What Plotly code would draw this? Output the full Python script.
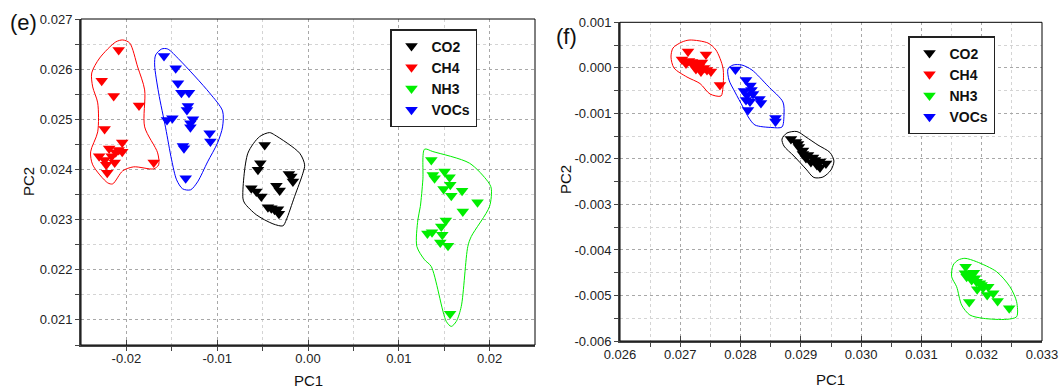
import plotly.graph_objects as go

FONT = "Liberation Sans, Arial, sans-serif"
GROUPS = ["CO2", "CH4", "NH3", "VOCs"]
COLORS = {"CO2": "#000000", "CH4": "#ff0000", "NH3": "#00ee00", "VOCs": "#0000ff"}

# ---------------- panel (e) data ----------------
e_co2_x = [-0.00477, -0.00525, -0.00551, -0.00210, -0.00184, -0.00166, -0.00348, -0.00312,
           -0.00624, -0.00569, -0.00514, -0.00441, -0.00404, -0.00331, -0.00320, -0.00368]
e_co2_y = [0.024490, 0.024125, 0.023992, 0.023912, 0.023859, 0.023759, 0.023673, 0.023580,
           0.023627, 0.023560, 0.023460, 0.023249, 0.023229, 0.023209, 0.023116, 0.023195]
e_ch4_x = [-0.02085, -0.02272, -0.02140, -0.01861, -0.02240, -0.02046, -0.02190, -0.02118,
           -0.02046, -0.02085, -0.02300, -0.02239, -0.02129, -0.02222, -0.02211, -0.01699, -0.02162]
e_ch4_y = [0.026382, 0.025771, 0.025466, 0.025277, 0.024809, 0.024540, 0.024420, 0.024341,
           0.024351, 0.024390, 0.024261, 0.024191, 0.024141, 0.024092, 0.023932, 0.024141, 0.024261]
e_nh3_x = [0.01358, 0.01375, 0.01394, 0.01504, 0.01559, 0.01567, 0.01493, 0.01578, 0.01697,
           0.01867, 0.01705, 0.01518, 0.01468, 0.01315, 0.01366, 0.01479, 0.01457, 0.01542, 0.01565]
e_nh3_y = [0.024191, 0.023892, 0.023827, 0.023958, 0.023847, 0.023693, 0.023608, 0.023474, 0.023574,
           0.023345, 0.023161, 0.022982, 0.022862, 0.022723, 0.022747, 0.022697, 0.022544, 0.022478, 0.021124]
e_voc_x = [-0.01586, -0.01457, -0.01432, -0.01394, -0.01311, -0.01322, -0.01333, -0.01553, -0.01494,
           -0.01267, -0.01295, -0.01295, -0.01083, -0.01075, -0.01377, -0.01366, -0.01347]
e_voc_y = [0.026263, 0.026018, 0.025719, 0.025532, 0.025532, 0.025267, 0.025187, 0.024988, 0.025022,
           0.025002, 0.024922, 0.024843, 0.024723, 0.024556, 0.024470, 0.024424, 0.023827]

# hand-drawn cluster outlines, panel (e)
e_co2_hull_x = [-0.00717, -0.00662, -0.00533, -0.00423, -0.00368, -0.00092, -0.00037, -0.00056,
                -0.00148, -0.00239, -0.00276, -0.00386, -0.00569, -0.00698]
e_co2_hull_y = [0.023428, 0.024325, 0.024655, 0.024735, 0.024689, 0.024325, 0.024092, 0.023926,
                0.023460, 0.022996, 0.022876, 0.022916, 0.023096, 0.023329]
e_ch4_hull_x = [-0.02041, -0.01964, -0.01876, -0.01799, -0.01799, -0.01656, -0.01645, -0.01700,
                -0.01920, -0.02041, -0.02151, -0.02206, -0.02371, -0.02394, -0.02316, -0.02316,
                -0.02371, -0.02382, -0.02294, -0.02118]
e_ch4_hull_y = [0.026582, 0.026522, 0.026044, 0.025586, 0.024849, 0.024331, 0.024092, 0.024012,
                0.024052, 0.023972, 0.023713, 0.023733, 0.024092, 0.024351, 0.024749, 0.025327,
                0.025645, 0.025924, 0.026223, 0.026542]
e_nh3_hull_x = [0.01284, 0.01375, 0.01779, 0.01981, 0.02018, 0.01999, 0.01798, 0.01760, 0.01688,
                0.01633, 0.01578, 0.01523, 0.01357, 0.01284, 0.01199, 0.01210, 0.01237, 0.01265]
e_nh3_hull_y = [0.024404, 0.024357, 0.024125, 0.023759, 0.023627, 0.023261, 0.022663, 0.022464, 0.021269,
                0.020970, 0.020871, 0.020970, 0.022066, 0.022199, 0.022464, 0.022996, 0.023261, 0.023793]
e_voc_hull_x = [-0.01678, -0.01612, -0.01546, -0.01414, -0.01084, -0.00941, -0.00941, -0.00996, -0.01106,
                -0.01216, -0.01293, -0.01381, -0.01447, -0.01502, -0.01568, -0.01645, -0.01689]
e_voc_hull_y = [0.026283, 0.026402, 0.026402, 0.026183, 0.025526, 0.025167, 0.024849, 0.024530, 0.024151,
                0.023753, 0.023594, 0.023614, 0.023793, 0.024191, 0.024829, 0.025526, 0.026084]

# ---------------- panel (f) data ----------------
f_co2_x = [0.028836, 0.028919, 0.028968, 0.029035, 0.029118, 0.029201, 0.029317, 0.029416,
           0.029317, 0.029167, 0.029085, 0.029035, 0.029234, 0.028952, 0.029267]
f_co2_y = [-0.001564, -0.001630, -0.001740, -0.001816, -0.001915, -0.001970, -0.002058, -0.002102,
           -0.002190, -0.002069, -0.001981, -0.001893, -0.002025, -0.001674, -0.002135]
f_ch4_x = [0.027128, 0.027426, 0.027028, 0.027144, 0.027194, 0.027277, 0.027360, 0.027095,
           0.027227, 0.027310, 0.027393, 0.027443, 0.027509, 0.027343, 0.027260, 0.027658]
f_ch4_y = [0.000358, 0.000292, 0.000182, 0.000149, 0.000127, 0.000094, 0.000116, 0.000094,
           0.000040, 0.000018, -0.000004, -0.000048, -0.000081, -0.000081, -0.000026, -0.000378]
f_nh3_x = [0.031733, 0.031721, 0.031804, 0.031871, 0.031750, 0.031833, 0.031915, 0.031970, 0.031925,
           0.032108, 0.032091, 0.032191, 0.032264, 0.031793, 0.032456, 0.031887, 0.031998, 0.032020]
f_nh3_y = [-0.004369, -0.004514, -0.004514, -0.004500, -0.004588, -0.004661, -0.004698, -0.004733, -0.004865,
           -0.004808, -0.004990, -0.004953, -0.005122, -0.005144, -0.005282, -0.004623, -0.004771, -0.004836]
f_voc_x = [0.027915, 0.028090, 0.028164, 0.028181, 0.028056, 0.028090, 0.028156, 0.028313,
           0.028338, 0.028123, 0.028579, 0.028579, 0.028106, 0.028206]
f_voc_y = [-0.000037, -0.000268, -0.000389, -0.000488, -0.000510, -0.000707, -0.000740, -0.000685,
           -0.000773, -0.000927, -0.001103, -0.001179, -0.000597, -0.000575]

# hand-drawn cluster outlines, panel (f)
f_co2_hull_x = [0.028687, 0.028769, 0.028935, 0.029085, 0.029284, 0.029483, 0.029549, 0.029499,
                0.029367, 0.029217, 0.029085, 0.028886, 0.028720]
f_co2_hull_y = [-0.001564, -0.001432, -0.001399, -0.001520, -0.001696, -0.001860, -0.002047, -0.002245,
                -0.002398, -0.002409, -0.002223, -0.001938, -0.001718]
f_ch4_hull_x = [0.026879, 0.027028, 0.027161, 0.027459, 0.027592, 0.027708, 0.027708, 0.027675,
                0.027493, 0.027327, 0.027111, 0.026896, 0.026846]
f_ch4_hull_y = [0.000435, 0.000567, 0.000611, 0.000545, 0.000391, -0.000004, -0.000422, -0.000619,
                -0.000575, -0.000345, -0.000202, -0.000004, 0.000237]
f_nh3_hull_x = [0.031527, 0.031610, 0.031721, 0.031915, 0.032247, 0.032468, 0.032579, 0.032579,
                0.032413, 0.032025, 0.031804, 0.031667, 0.031584, 0.031501]
f_nh3_hull_y = [-0.004331, -0.004222, -0.004184, -0.004259, -0.004478, -0.004808, -0.005137, -0.005467,
                -0.005524, -0.005502, -0.005429, -0.005210, -0.004808, -0.004588]
f_voc_hull_x = [0.027791, 0.027874, 0.028023, 0.028189, 0.028454, 0.028703, 0.028720, 0.028687,
                0.028521, 0.028239, 0.028139, 0.028040, 0.027907, 0.027808]
f_voc_hull_y = [-0.000026, 0.000061, 0.000061, -0.000048, -0.000400, -0.000751, -0.001037, -0.001300,
                -0.001311, -0.001256, -0.001103, -0.000861, -0.000532, -0.000268]

# ---------------- tick labels ----------------
e_xtick_vals = [-0.02, -0.01, 0.0, 0.01, 0.02]
e_xtick_text = ["-0.02", "-0.01", "0.00", "0.01", "0.02"]
e_ytick_vals = [0.021, 0.022, 0.023, 0.024, 0.025, 0.026, 0.027]
e_ytick_text = ["0.021", "0.022", "0.023", "0.024", "0.025", "0.026", "0.027"]
f_xtick_vals = [0.026, 0.027, 0.028, 0.029, 0.030, 0.031, 0.032, 0.033]
f_xtick_text = ["0.026", "0.027", "0.028", "0.029", "0.030", "0.031", "0.032", "0.033"]
f_ytick_vals = [-0.006, -0.005, -0.004, -0.003, -0.002, -0.001, 0.0, 0.001]
f_ytick_text = ["-0.006", "-0.005", "-0.004", "-0.003", "-0.002", "-0.001", "0.000", "0.001"]

panels = {
    "e": dict(pts={"CO2": (e_co2_x, e_co2_y), "CH4": (e_ch4_x, e_ch4_y),
                   "NH3": (e_nh3_x, e_nh3_y), "VOCs": (e_voc_x, e_voc_y)},
              hulls={"CO2": (e_co2_hull_x, e_co2_hull_y), "CH4": (e_ch4_hull_x, e_ch4_hull_y),
                     "NH3": (e_nh3_hull_x, e_nh3_hull_y), "VOCs": (e_voc_hull_x, e_voc_hull_y)},
              xa="x", ya="y", legend="legend"),
    "f": dict(pts={"CO2": (f_co2_x, f_co2_y), "CH4": (f_ch4_x, f_ch4_y),
                   "NH3": (f_nh3_x, f_nh3_y), "VOCs": (f_voc_x, f_voc_y)},
              hulls={"CO2": (f_co2_hull_x, f_co2_hull_y), "CH4": (f_ch4_hull_x, f_ch4_hull_y),
                     "NH3": (f_nh3_hull_x, f_nh3_hull_y), "VOCs": (f_voc_hull_x, f_voc_hull_y)},
              xa="x2", ya="y2", legend="legend2"),
}

fig = go.Figure()
for key, p in panels.items():
    for g in GROUPS:
        hx, hy = p["hulls"][g]
        fig.add_trace(go.Scatter(x=list(hx) + [hx[0]], y=list(hy) + [hy[0]], mode="lines",
                                 line=dict(color=COLORS[g], width=1, shape="spline", smoothing=0.8),
                                 xaxis=p["xa"], yaxis=p["ya"], showlegend=False, hoverinfo="skip"))
    for g in GROUPS:
        x, y = p["pts"][g]
        fig.add_trace(go.Scatter(x=x, y=y, mode="markers", name=g,
                                 marker=dict(symbol="triangle-down", size=11, color=COLORS[g],
                                             line=dict(width=0)),
                                 xaxis=p["xa"], yaxis=p["ya"], legend=p["legend"]))

tickfont = dict(family=FONT, size=13, color="#222")
grid = dict(showgrid=True, gridcolor="#a8a8a8", griddash="dot", gridwidth=1)
minor = dict(showgrid=True, gridcolor="#d4d4d4", griddash="dot", ticklen=4, tickcolor="#444")

def xaxis(domain, rng, vals, text, mdt, anchor):
    return dict(domain=domain, range=rng, tickmode="array", tickvals=vals, ticktext=text,
                ticks="inside", ticklen=5, tickcolor="#444", tickwidth=1,
                minor=dict(dtick=mdt, tick0=0, **minor), **grid,
                showline=True, linecolor="#444", linewidth=2, mirror=False,
                zeroline=False, tickfont=tickfont, anchor=anchor, automargin=False)

def yaxis(domain, rng, vals, text, mdt, anchor):
    return dict(domain=domain, range=rng, tickmode="array", tickvals=vals, ticktext=text,
                ticks="outside", ticklen=4, tickcolor="#444", tickwidth=1,
                minor=dict(dtick=mdt, tick0=0, **minor), **grid,
                showline=True, linecolor="#444", linewidth=2, mirror=False,
                zeroline=False, tickfont=tickfont, anchor=anchor, automargin=False)

W, H = 1059, 390
ex = [81 / W, 535 / W]
ey = [1 - 345 / H, 1 - 19 / H]
fx = [620 / W, 1042 / W]
fy = [1 - 341 / H, 1 - 22.3 / H]

legend_style = dict(bgcolor="white", bordercolor="#222", borderwidth=1.5,
                    font=dict(family=FONT, size=14, color="#111", weight="bold"),
                    xanchor="left", yanchor="top", itemwidth=30, tracegroupgap=0)

def label(text, x, y, size, angle=0):
    return dict(text=text, xref="paper", yref="paper", x=x / W, y=1 - y / H, xanchor="center",
                yanchor="middle", showarrow=False, textangle=angle,
                font=dict(family=FONT, size=size, color="#111"))

fig.update_layout(
    width=W, height=H, margin=dict(l=0, r=0, t=0, b=0, autoexpand=False),
    paper_bgcolor="white", plot_bgcolor="white",
    xaxis=xaxis(ex, [-0.025, 0.025], e_xtick_vals, e_xtick_text, 0.005, "y"),
    yaxis=yaxis(ey, [0.0205, 0.027], e_ytick_vals, e_ytick_text, 0.0005, "x"),
    xaxis2=xaxis(fx, [0.026, 0.033], f_xtick_vals, f_xtick_text, 0.0005, "y2"),
    yaxis2=yaxis(fy, [-0.006, 0.001], f_ytick_vals, f_ytick_text, 0.0005, "x2"),
    legend=dict(x=390 / W, y=1 - 29 / H, **legend_style),
    legend2=dict(x=908 / W, y=1 - 36 / H, **legend_style),
    shapes=[
        dict(type="rect", xref="x domain", yref="y domain", x0=0, x1=1, y0=0, y1=1,
             line=dict(color="#000", width=1), layer="above"),
        dict(type="rect", xref="x2 domain", yref="y2 domain", x0=0, x1=1, y0=0, y1=1,
             line=dict(color="#000", width=1), layer="above"),
    ],
    annotations=[
        label("(e)", 23, 22, 22),
        label("(f)", 566, 36, 22),
        label("PC1", 308, 380, 15),
        label("PC1", 830, 379, 15),
        label("PC2", 28, 182, 15, -90),
        label("PC2", 565, 180, 15, -90),
    ],
)

fig.write_html("out.html", config={"displayModeBar": False},
               post_script="document.body.style.margin='0px';document.body.style.overflow='hidden';")
